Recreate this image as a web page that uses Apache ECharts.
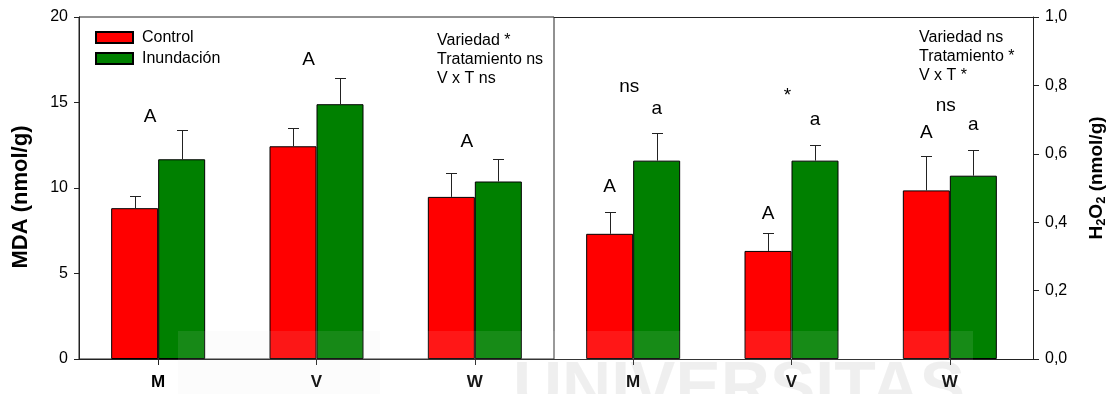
<!DOCTYPE html>
<html>
<head>
<meta charset="utf-8">
<script src="https://cdn.jsdelivr.net/npm/echarts@6/dist/echarts.min.js"></script>
<style>
html,body{margin:0;padding:0;background:#fff;}
#chart{width:1110px;height:394px;}
</style>
</head>
<body>
<div id="chart"></div>
<script>
// ---------- data ----------
const categories = ['M', 'V', 'W'];
const seriesNames = ['Control', 'Inundación'];

// MDA (nmol/g) – left panel
const mdaControl = [8.82, 12.44, 9.48];
const mdaControlErr = [0.70, 1.06, 1.39];
const mdaInund = [11.68, 14.90, 10.38];
const mdaInundErr = [1.70, 1.56, 1.30];
const mdaTicks = ['0', '5', '10', '15', '20'];

// H2O2 (nmol/g) – right panel
const h2o2Control = [0.366, 0.316, 0.493];
const h2o2ControlErr = [0.063, 0.052, 0.101];
const h2o2Inund = [0.580, 0.580, 0.536];
const h2o2InundErr = [0.081, 0.047, 0.074];
const h2o2Ticks = ['0,0', '0,2', '0,4', '0,6', '0,8', '1,0'];

// significance letters (text, value at which they sit)
const mdaGroupText = ['A', 'A', 'A'];
const mdaGroupY = [14.18, 17.51, 12.72];
const h2o2GroupText = ['ns', '*', 'ns'];
const h2o2GroupY = [0.797, 0.770, 0.741];
const h2o2ControlText = ['A', 'A', 'A'];
const h2o2ControlY = [0.505, 0.425, 0.662];
const h2o2InundText = ['a', 'a', 'a'];
const h2o2InundY = [0.733, 0.700, 0.686];

const mdaStats = ['Variedad *', 'Tratamiento ns', 'V x T ns'];
const h2o2Stats = ['Variedad ns', 'Tratamiento *', 'V x T *'];

// ---------- style ----------
const FONT = "'Liberation Sans', Arial, Helvetica, sans-serif";
const BW = 47;          // bar width
const CAP = 11;         // error-bar cap width
const NUDGE = [-8, -4]; // group letters slightly left of centre (per panel)
const RED = '#ff0000', GREEN = '#008000', AX = '#222';

const chart = echarts.init(document.getElementById('chart'), null, {renderer: 'canvas'});

function errSeries(grid, values, errs, slot) {
  return {
    type: 'custom', xAxisIndex: grid, yAxisIndex: grid, z: 5, silent: true,
    data: values.map((v, i) => [i, v, errs[i]]),
    renderItem: function (params, api) {
      const c = api.value(0), v = api.value(1), e = api.value(2);
      const p0 = api.coord([c, v]), p1 = api.coord([c, v + e]);
      const x = Math.round(p0[0] + slot * BW / 2) + 0.5;
      const y1 = Math.round(p1[1]) + 0.5;
      return {type: 'group', children: [
        {type: 'line', shape: {x1: x, y1: p0[1], x2: x, y2: y1}, style: {stroke: AX, lineWidth: 1}},
        {type: 'line', shape: {x1: x - CAP / 2, y1: y1, x2: x + CAP / 2, y2: y1}, style: {stroke: AX, lineWidth: 1}}
      ]};
    }
  };
}

function letterSeries(grid, texts, ys, slot) {
  return {
    type: 'custom', xAxisIndex: grid, yAxisIndex: grid, z: 6, silent: true,
    data: ys.map((v, i) => [i, v]),
    renderItem: function (params, api) {
      const p = api.coord([api.value(0), api.value(1)]);
      const x = p[0] + slot * BW / 2 + (slot === 0 ? NUDGE[grid] : 0);
      return {type: 'text', x: x, y: p[1], style: {
        text: texts[params.dataIndex], fill: '#000', font: '19px ' + FONT,
        textAlign: 'center', textVerticalAlign: 'middle'
      }};
    }
  };
}

function barSeries(grid, name, values, color) {
  return {
    type: 'bar', name: name, xAxisIndex: grid, yAxisIndex: grid,
    data: values, barWidth: BW, barGap: '0%',
    itemStyle: {color: color, borderColor: '#000', borderWidth: 1}
  };
}

const xAxisCommon = {
  type: 'category', data: categories,
  axisLine: {show: true, lineStyle: {color: AX, width: 1}},
  axisTick: {show: true, alignWithLabel: true, length: 6, lineStyle: {color: AX}},
  axisLabel: {fontFamily: FONT, fontSize: 17, fontWeight: 'bold', color: '#000', margin: 15},
  splitLine: {show: false}
};

const option = {
  animation: false,
  backgroundColor: '#fff',
  legend: {
    data: seriesNames, orient: 'vertical', left: 95, top: 29, padding: 0,
    itemWidth: 37, itemHeight: 11, itemGap: 4, icon: 'rect',
    textStyle: {fontFamily: FONT, fontSize: 16, color: '#000', lineHeight: 17, padding: [0, 0, 0, 4]}
  },
  grid: [
    {left: 79, top: 17, width: 475, height: 342, show: true, borderColor: AX, borderWidth: 1, backgroundColor: 'transparent'},
    {left: 554, top: 17, width: 475, height: 342, show: false}
  ],
  xAxis: [
    Object.assign({gridIndex: 0}, xAxisCommon),
    Object.assign({gridIndex: 1}, xAxisCommon)
  ],
  yAxis: [
    {
      gridIndex: 0, type: 'value', min: 0, max: 20, interval: 5, position: 'left',
      axisLine: {show: true, lineStyle: {color: AX}},
      axisTick: {show: true, length: 5, lineStyle: {color: AX}},
      axisLabel: {fontFamily: FONT, fontSize: 16, color: '#000', margin: 11,
        formatter: (v, i) => mdaTicks[i]},
      splitLine: {show: false}
    },
    {
      gridIndex: 1, type: 'value', min: 0, max: 1, interval: 0.2, position: 'right', offset: 4,
      axisLine: {show: true, lineStyle: {color: AX}},
      axisTick: {show: true, length: 6, lineStyle: {color: AX}},
      axisLabel: {fontFamily: FONT, fontSize: 16, color: '#000', margin: 12,
        formatter: (v, i) => h2o2Ticks[i]},
      splitLine: {show: false}
    }
  ],
  series: [
    barSeries(0, seriesNames[0], mdaControl, RED),
    barSeries(0, seriesNames[1], mdaInund, GREEN),
    barSeries(1, seriesNames[0], h2o2Control, RED),
    barSeries(1, seriesNames[1], h2o2Inund, GREEN),
    errSeries(0, mdaControl, mdaControlErr, -1),
    errSeries(0, mdaInund, mdaInundErr, 1),
    errSeries(1, h2o2Control, h2o2ControlErr, -1),
    errSeries(1, h2o2Inund, h2o2InundErr, 1),
    letterSeries(0, mdaGroupText, mdaGroupY, 0),
    letterSeries(1, h2o2GroupText, h2o2GroupY, 0),
    letterSeries(1, h2o2ControlText, h2o2ControlY, -1),
    letterSeries(1, h2o2InundText, h2o2InundY, 1)
  ],
  graphic: [
    // frame completion: top line over right panel and axis extension to the right axis
    {type: 'line', shape: {x1: 554, y1: 17.5, x2: 1033.5, y2: 17.5}, style: {stroke: AX, lineWidth: 1}, silent: true},
    {type: 'line', shape: {x1: 1029, y1: 359.5, x2: 1033.5, y2: 359.5}, style: {stroke: AX, lineWidth: 1}, silent: true},
    // statistics text blocks
    {type: 'text', left: 437, top: 31, silent: true,
      style: {text: mdaStats.join('\n'), font: '16px ' + FONT, fill: '#000', lineHeight: 19}},
    {type: 'text', left: 919, top: 28, silent: true,
      style: {text: h2o2Stats.join('\n'), font: '16px ' + FONT, fill: '#000', lineHeight: 19}},
    // axis titles
    {type: 'text', x: 21, y: 197, rotation: Math.PI / 2, silent: true,
      style: {text: 'MDA (nmol/g)', font: 'bold 22px ' + FONT, fill: '#000', textAlign: 'center', textVerticalAlign: 'middle'}},
    {type: 'text', x: 1097, y: 178, rotation: Math.PI / 2, silent: true,
      style: {
        text: '{b|H}{s|2}{b|O}{s|2}{b| (nmol/g)}', textAlign: 'center', textVerticalAlign: 'middle',
        rich: {
          b: {fontFamily: FONT, fontSize: 19, fontWeight: 'bold', fill: '#000', lineHeight: 22},
          s: {fontFamily: FONT, fontSize: 13, fontWeight: 'bold', fill: '#000', lineHeight: 14, padding: [9, 0, 0, 0]}
        }
      }},
    // faint watermark
    {type: 'text', x: 513, y: 356, z: -10, silent: true,
      style: {text: 'UNIVERSITAS', font: 'bold 68px ' + FONT, fill: 'rgba(0,0,0,0.065)', textVerticalAlign: 'top'}},
    {type: 'rect', shape: {x: 178, y: 331, width: 202, height: 63}, z: 100, silent: true,
      style: {fill: 'rgba(0,0,0,0.012)'}},
    {type: 'rect', shape: {x: 178, y: 331, width: 795, height: 63}, z: 100, silent: true,
      style: {fill: 'rgba(255,255,255,0.09)'}}
  ]
};

chart.setOption(option);
</script>
</body>
</html>
